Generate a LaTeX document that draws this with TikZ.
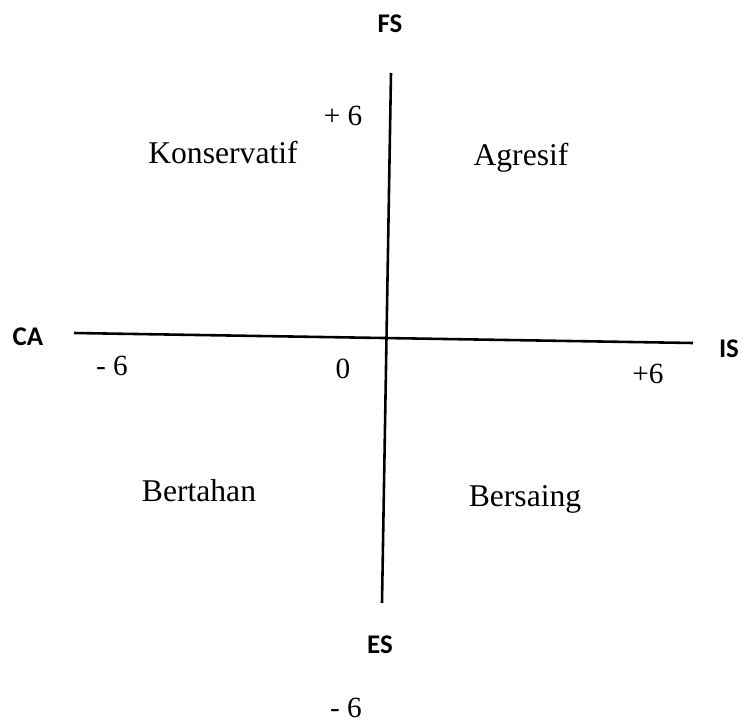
\documentclass[tikz,border=0pt]{standalone}
\usepackage{fontspec}
\setmainfont{Liberation Serif}
\newfontfamily\axisfont{Carlito}
\usetikzlibrary{positioning}

\begin{document}
\begin{tikzpicture}[
  x=0.03cm, y=-0.03cm,
  axis/.style={line width=2.2pt},
  quad/.style={font=\fontsize{27}{30}\selectfont, inner sep=0pt, anchor=base},
  tick/.style={font=\fontsize{25}{28}\selectfont, inner sep=0pt, anchor=base},
  axlabel/.style={font=\axisfont\bfseries\fontsize{23}{26}\selectfont, inner sep=0pt, anchor=base}
]
\useasboundingbox (0,0) rectangle (743,723);
% axis ends
\coordinate (top) at (391,73);
\coordinate (bot) at (382,603);
\coordinate (left) at (74,333);
\coordinate (right) at (693,343);
\draw[axis] (top) -- (bot);
\draw[axis] (left) -- (right);
% axis labels
\node[axlabel] (fs) at (390,32) {FS};
\node[axlabel] (ca) at (28,345) {CA};
\node[axlabel] (is) at (729,357) {IS};
\node[axlabel] (es) at (380,653) {ES};
% scale values
\node[tick] (ptop) at (343,125) {+ 6};
\node[tick] (mleft) at (112,375) {- 6};
\node[tick] (zero) at (343,378) {0};
\node[tick] (pright) at (648,383) {+6};
\node[tick] (mbot) at (346,717) {- 6};
% quadrants
\node[quad] (kons) at (223,163) {Konservatif};
\node[quad] (agr) at (521,165) {Agresif};
\node[quad] (bert) at (199,501) {Bertahan};
\node[quad] (bers) at (525,506) {Bersaing};
\end{tikzpicture}
\end{document}
